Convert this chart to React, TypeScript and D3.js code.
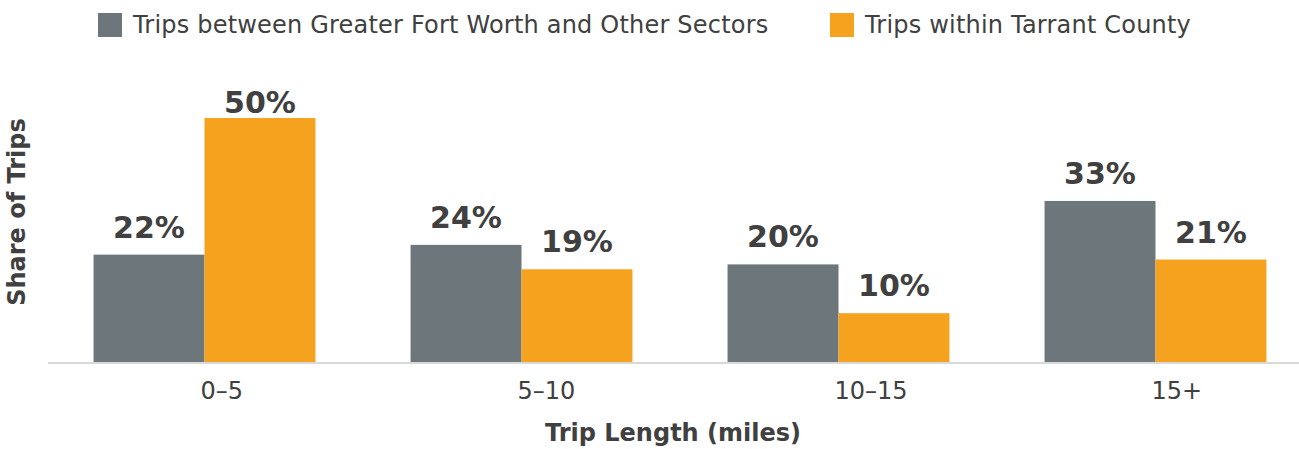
import React from 'react';
import * as d3 from 'd3';

const categories = ['0–5', '5–10', '10–15', '15+'];
const seriesNames = ['Trips between Greater Fort Worth and Other Sectors', 'Trips within Tarrant County'];
const betweenSectors = [22, 24, 20, 33];
const withinTarrant = [50, 19, 10, 21];
const seriesColors = ['#6d777b', '#f5a31f'];

const W = 1299;
const H = 449;
const FONT = '"DejaVu Sans", Verdana, sans-serif';
const TEXT = '#404040';

export default function App() {
  const plotBottom = 362;
  const plotTop = 118;

  const x = d3.scaleBand<string>()
    .domain(categories)
    .range([46, 1314])
    .paddingInner(0.3)
    .paddingOuter(0.15);

  const inner = d3.scaleBand<string>()
    .domain(['0', '1'])
    .range([0, x.bandwidth()]);

  const y = d3.scaleLinear()
    .domain([0, 50])
    .range([plotBottom, plotTop]);

  const series = [betweenSectors, withinTarrant];

  // legend
  const legendX = [98, 830];

  return (
    <svg
      width={W}
      height={H}
      style={{ position: 'absolute', left: 0, top: 0, background: '#fff' }}
      fontFamily={FONT}
    >
      {seriesNames.map((name, i) => (
        <g key={name} transform={`translate(${legendX[i]},13)`}>
          <rect width={24} height={24} fill={seriesColors[i]} />
          <text x={35} y={20} fontSize={24} letterSpacing={0.2} fill={TEXT}>{name}</text>
        </g>
      ))}

      {categories.map((c, ci) => (
        <g key={c} transform={`translate(${x(c)},0)`}>
          {series.map((vals, si) => {
            const v = vals[ci];
            const bx = inner(String(si)) as number;
            const cx = bx + inner.bandwidth() / 2;
            const ly = Math.max(y(v) - 17, plotTop - 5);
            return (
              <g key={si}>
                <rect
                  x={bx}
                  y={y(v)}
                  width={inner.bandwidth()}
                  height={y(0) - y(v)}
                  fill={seriesColors[si]}
                />
                <text
                  x={cx}
                  y={ly}
                  textAnchor="middle"
                  fontSize={30}
                  fontWeight="bold"
                  fill={TEXT}
                >
                  {v}%
                </text>
              </g>
            );
          })}
          <text
            x={x.bandwidth() / 2 - 4}
            y={399}
            fontSize={24}
            fill={TEXT}
          >
            {c}
          </text>
        </g>
      ))}

      <line x1={48} x2={W} y1={y(0) + 1} y2={y(0) + 1} stroke="#d9d9d9" strokeWidth={2} />

      <text
        x={673}
        y={441}
        textAnchor="middle"
        fontSize={24}
        fontWeight="bold"
        fill={TEXT}
      >
        Trip Length (miles)
      </text>
      <text
        transform={`translate(25,212) rotate(-90)`}
        textAnchor="middle"
        fontSize={24}
        fontWeight="bold"
        fill={TEXT}
      >
        Share of Trips
      </text>
    </svg>
  );
}
